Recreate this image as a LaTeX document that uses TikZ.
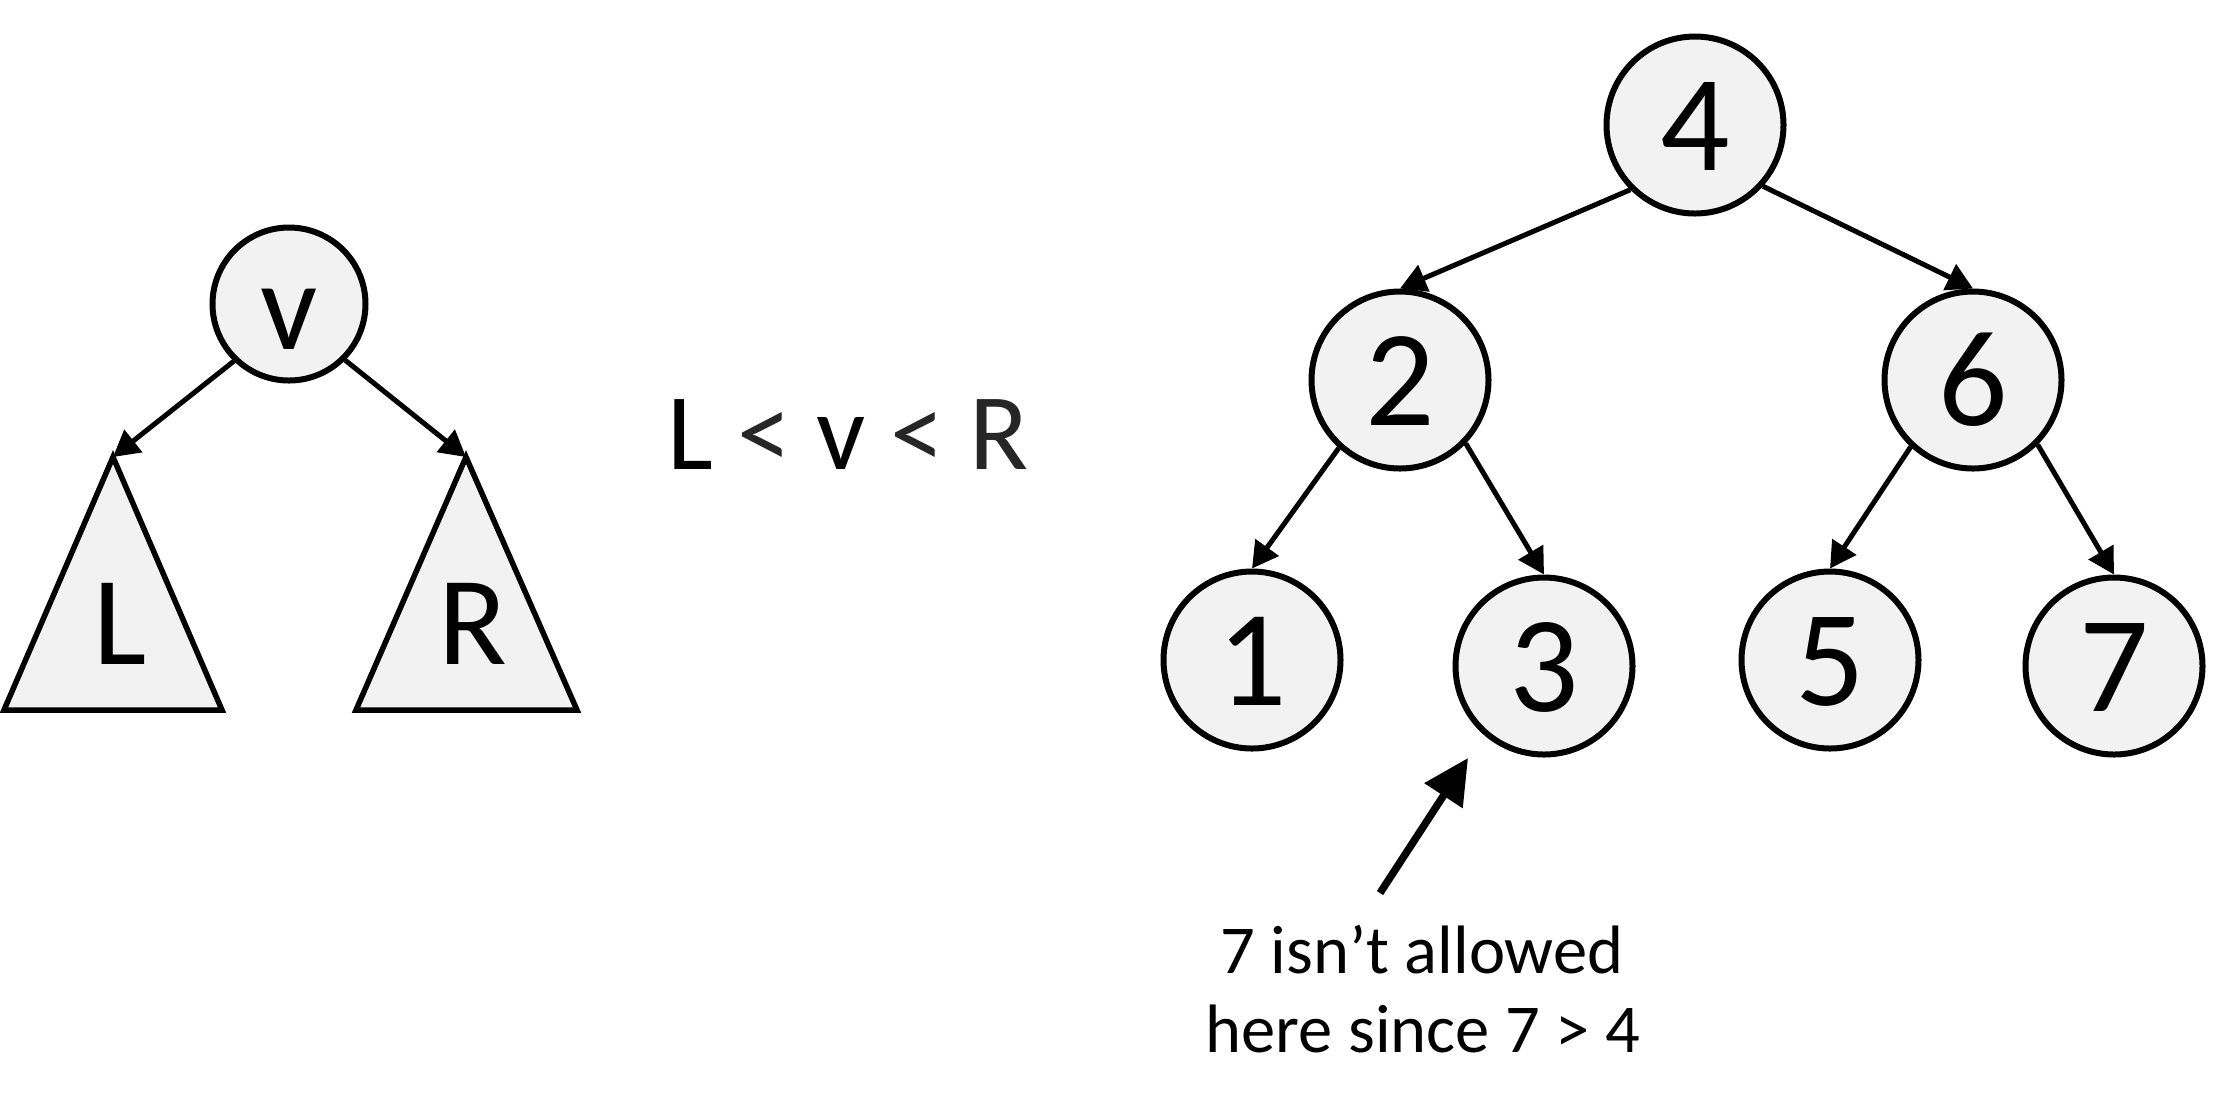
\documentclass[tikz,border=0pt]{standalone}
\usepackage{fontspec}
\setmainfont{Carlito}
\usetikzlibrary{arrows.meta}
\definecolor{nodefill}{HTML}{F2F2F2}
\definecolor{darktext}{HTML}{262626}
\begin{document}
\begin{tikzpicture}[x=0.1mm,y=-0.1mm,
  treenode/.style={circle,draw=black,fill=nodefill,line width=0.6mm,minimum size=17.7mm,inner sep=0pt,
    font=\fontsize{39}{39}\selectfont,text height=9mm,text depth=0mm},
  rootnode/.style={treenode,minimum size=15.3mm,font=\fontsize{36}{36}\selectfont},
  subtree/.style={draw=black,fill=nodefill,line width=0.55mm,line join=miter},
  treelabel/.style={anchor=base,inner sep=0pt,font=\fontsize{36}{36}\selectfont},
  edgearrow/.style={line width=0.5mm,-{Triangle[length=2.6mm,width=2.8mm]}},
  callout/.style={line width=0.75mm,-{Triangle[length=4.5mm,width=4.4mm]}},
  captiontext/.style={anchor=base,inner sep=0pt,font=\fontsize{19.5}{23}\selectfont}
]
\useasboundingbox (0,0) rectangle (2232,1115);

% ---- left: generic BST property ----
\coordinate (Ltop) at (113,457);
\coordinate (Rtop) at (466,457);
\draw[subtree] (Ltop) -- (222,710) -- (4,710) -- cycle;
\draw[subtree] (Rtop) -- (577,710) -- (356,710) -- cycle;
\node[treelabel] (Llab) at (120,664) {L};
\node[treelabel] (Rlab) at (473,664) {R};
\node[rootnode] (v) at (289,304) {v};
\draw[edgearrow] (v.226) -- (Ltop);
\draw[edgearrow] (v.-45) -- (Rtop);

\node[anchor=base,inner sep=0pt,font=\fontsize{31}{31}\selectfont] (rel) at (848,469)
  {L \textcolor{darktext}{<} v \textcolor{darktext}{< R}};

% ---- right: example tree ----
\node[treenode] (n4) at (1695,125) {4};
\node[treenode] (n2) at (1400,380) {2};
\node[treenode] (n6) at (1973,380) {6};
\node[treenode] (n1) at (1252,660) {1};
\node[treenode] (n3) at (1544,666) {3};
\node[treenode] (n5) at (1830,660) {5};
\node[treenode] (n7) at (2114,666) {7};

\draw[edgearrow] (n4.225) -- (n2.north);
\draw[edgearrow] (n4.-42) -- (n6.north);
\draw[edgearrow] (n2.228) -- (n1.north);
\draw[edgearrow] (n2.-44) -- (n3.north);
\draw[edgearrow] (n6.227) -- (n5.north);
\draw[edgearrow] (n6.-45) -- (n7.north);

% ---- callout ----
\coordinate (cs) at (1380,893);
\coordinate (ct) at (1468,758);
\draw[callout] (cs) -- (ct);
\node[captiontext] (cap1) at (1422,973) {7 isn’t allowed};
\node[captiontext] (cap2) at (1423,1052) {here since 7 > 4};
\end{tikzpicture}
\end{document}
